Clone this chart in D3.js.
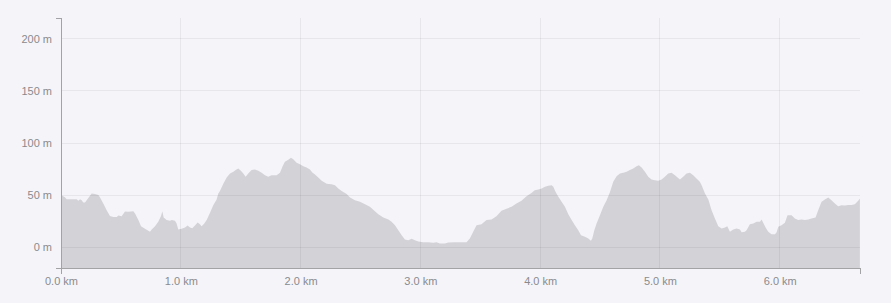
<!DOCTYPE html>
<html>
<head>
<meta charset="utf-8">
<title>Elevation profile</title>
<script src="https://cdn.jsdelivr.net/npm/d3@7"></script>
<style>
    html, body { margin: 0; padding: 0; background: #f5f5f9; }
    svg { display: block; }
    .axis text { font-family: "Liberation Sans", Arial, sans-serif; font-size: 11px; fill: #8a8a8e; }
    .axis path, .axis line { stroke: #a3a3a6; }
</style>
</head>
<body>
<script>
// distance along the route (km) and elevation (m)
var distanceKm = [
    0.000, 0.033, 0.047, 0.131, 0.145, 0.159, 0.173, 0.186, 0.200, 0.214,
    0.256, 0.284, 0.312, 0.326, 0.353, 0.381, 0.409, 0.437, 0.465, 0.479,
    0.506, 0.534, 0.562, 0.604, 0.618, 0.646, 0.668, 0.701, 0.743, 0.757,
    0.785, 0.812, 0.835, 0.846, 0.857, 0.882, 0.910, 0.924, 0.952, 0.965,
    0.979, 1.007, 1.035, 1.057, 1.077, 1.096, 1.118, 1.141, 1.160, 1.174,
    1.196, 1.216, 1.244, 1.271, 1.299, 1.313, 1.327, 1.355, 1.383, 1.411,
    1.439, 1.458, 1.480, 1.502, 1.522, 1.541, 1.563, 1.591, 1.619, 1.647,
    1.675, 1.703, 1.730, 1.758, 1.800, 1.828, 1.850, 1.869, 1.897, 1.920,
    1.939, 1.967, 1.995, 2.023, 2.050, 2.078, 2.098, 2.120, 2.148, 2.176,
    2.218, 2.259, 2.287, 2.315, 2.343, 2.385, 2.413, 2.454, 2.496, 2.538,
    2.579, 2.616, 2.649, 2.691, 2.733, 2.760, 2.788, 2.816, 2.844, 2.871,
    2.899, 2.927, 2.955, 2.983, 3.024, 3.066, 3.108, 3.135, 3.163, 3.205,
    3.232, 3.288, 3.344, 3.385, 3.413, 3.441, 3.469, 3.510, 3.552, 3.594,
    3.635, 3.677, 3.719, 3.761, 3.802, 3.844, 3.886, 3.927, 3.955, 3.985,
    4.013, 4.040, 4.068, 4.096, 4.110, 4.129, 4.152, 4.179, 4.207, 4.235,
    4.263, 4.290, 4.318, 4.341, 4.374, 4.402, 4.424, 4.435, 4.452, 4.471,
    4.499, 4.527, 4.555, 4.583, 4.610, 4.638, 4.666, 4.694, 4.722, 4.749,
    4.777, 4.805, 4.824, 4.847, 4.875, 4.902, 4.930, 4.958, 4.986, 5.014,
    5.041, 5.069, 5.097, 5.125, 5.167, 5.194, 5.222, 5.250, 5.278, 5.305,
    5.333, 5.348, 5.376, 5.404, 5.431, 5.459, 5.487, 5.515, 5.543, 5.562,
    5.584, 5.612, 5.640, 5.668, 5.682, 5.709, 5.723, 5.751, 5.779, 5.807,
    5.835, 5.849, 5.862, 5.882, 5.904, 5.932, 5.960, 5.974, 5.988, 6.015,
    6.043, 6.065, 6.099, 6.126, 6.154, 6.182, 6.210, 6.238, 6.265, 6.299,
    6.321, 6.349, 6.377, 6.405, 6.432, 6.460, 6.488, 6.516, 6.544, 6.571,
    6.599, 6.627, 6.655, 6.669
];

var elevationM = [
    50.0, 48.0, 46.0, 46.0, 44.5, 46.0, 45.0, 43.0, 43.0, 45.0,
    51.5, 51.0, 50.0, 47.7, 42.0, 35.5, 30.0, 29.0, 29.0, 30.4,
    29.8, 34.2, 33.9, 34.5, 32.3, 26.0, 20.0, 17.6, 14.7, 17.0,
    20.0, 24.3, 30.0, 34.5, 28.5, 26.0, 25.3, 26.0, 25.3, 22.7,
    17.0, 17.6, 19.0, 20.8, 19.0, 18.2, 20.8, 23.7, 22.0, 20.2,
    22.7, 26.0, 33.0, 40.3, 45.8, 51.5, 54.0, 61.0, 67.0, 70.7,
    72.3, 74.0, 75.5, 73.3, 70.7, 67.5, 70.7, 74.0, 74.6, 73.3,
    71.4, 69.0, 67.5, 69.0, 69.0, 71.4, 77.8, 82.0, 84.0, 85.8,
    84.4, 81.0, 79.7, 77.8, 76.5, 74.6, 71.7, 69.7, 67.0, 63.7,
    61.0, 60.5, 59.5, 56.3, 54.0, 51.0, 47.7, 45.0, 43.5, 41.3,
    38.7, 34.9, 31.7, 28.5, 26.6, 24.3, 21.0, 16.3, 11.5, 7.4,
    6.7, 8.0, 6.7, 5.4, 4.8, 4.8, 4.2, 4.8, 3.5, 3.5,
    4.5, 4.8, 4.8, 4.8, 8.3, 14.7, 21.0, 22.0, 26.0, 26.6,
    29.8, 35.0, 37.0, 38.7, 42.0, 44.5, 49.0, 52.0, 54.7, 55.3,
    56.3, 57.9, 58.9, 59.5, 57.9, 53.0, 48.3, 43.5, 38.7, 31.7,
    26.0, 21.0, 16.3, 11.5, 9.9, 8.3, 6.1, 8.3, 16.3, 22.7,
    30.7, 38.7, 45.0, 53.0, 62.7, 68.2, 70.7, 71.4, 72.3, 74.0,
    75.5, 77.8, 78.7, 76.5, 72.3, 67.5, 65.0, 64.3, 63.7, 65.0,
    67.5, 70.7, 71.4, 69.0, 65.0, 67.5, 70.7, 71.4, 69.0, 65.9,
    62.7, 59.5, 51.5, 45.8, 35.5, 27.5, 20.2, 17.9, 19.0, 20.2,
    14.7, 17.0, 17.9, 17.0, 14.4, 14.7, 16.3, 22.0, 22.7, 24.3,
    24.3, 26.6, 23.4, 19.0, 14.7, 12.5, 12.5, 14.4, 19.6, 21.0,
    23.4, 30.7, 30.7, 27.5, 26.0, 26.6, 26.0, 26.6, 27.5, 28.5,
    35.5, 43.5, 45.8, 47.7, 45.0, 42.0, 39.4, 40.3, 40.0, 40.6,
    40.6, 41.3, 44.5, 46.7
];

var xTicksKm = [0, 1, 2, 3, 4, 5, 6];
var yTicksM = [0, 50, 100, 150, 200];
var xDomainKm = [0, 6.67];
var yDomainM = [-20, 220];

(function () {
    "use strict";

    var plot = {};

    plot.outerWidth = 891;
    plot.outerHeight = 303;
    plot.margin = {top: 18, right: 31, bottom: 35, left: 61};
    plot.innerWidth = plot.outerWidth - plot.margin.left - plot.margin.right;
    plot.innerHeight = plot.outerHeight - plot.margin.top - plot.margin.bottom;

    var points = distanceKm.map(function (d, i) {
        return {km: d, m: elevationM[i]};
    });

    var x = d3.scaleLinear().domain(xDomainKm).range([0, plot.innerWidth]);
    var y = d3.scaleLinear().domain(yDomainM).range([plot.innerHeight, 0]);

    var svg = d3.select("body").append("svg")
        .attr("width", plot.outerWidth)
        .attr("height", plot.outerHeight);

    svg.append("rect")
        .attr("width", plot.outerWidth)
        .attr("height", plot.outerHeight)
        .attr("fill", "#f5f5f9");

    plot.area = svg.append("g")
        .attr("transform", "translate(" + plot.margin.left + "," + plot.margin.top + ")");

    // the profile itself, filled down to the bottom of the plot
    var area = d3.area()
        .x(function (d) { return x(d.km); })
        .y0(plot.innerHeight)
        .y1(function (d) { return y(d.m); });

    plot.area.append("path")
        .datum(points)
        .attr("d", area)
        .attr("fill", "#d3d3d7");

    // grid sits over the fill, so it darkens slightly inside the profile
    var grid = plot.area.append("g")
        .attr("stroke", "rgba(0,0,0,0.055)")
        .attr("shape-rendering", "crispEdges");

    grid.selectAll("line.h")
        .data(yTicksM)
        .enter().append("line")
        .attr("class", "h")
        .attr("x1", 0)
        .attr("x2", plot.innerWidth)
        .attr("y1", function (d) { return y(d); })
        .attr("y2", function (d) { return y(d); });

    grid.selectAll("line.v")
        .data(xTicksKm.filter(function (d) { return d > 0; }))
        .enter().append("line")
        .attr("class", "v")
        .attr("x1", function (d) { return x(d); })
        .attr("x2", function (d) { return x(d); })
        .attr("y1", 0)
        .attr("y2", plot.innerHeight);

    // AXES
    var yAxis = d3.axisLeft(y)
        .tickValues(yTicksM)
        .tickSizeInner(0)
        .tickSizeOuter(5)
        .tickPadding(9)
        .tickFormat(function (d) { return d + " m"; });

    var xAxis = d3.axisBottom(x)
        .tickValues(xTicksKm)
        .tickSizeInner(0)
        .tickSizeOuter(6)
        .tickPadding(9)
        .tickFormat(function (d) { return d3.format(".1f")(d) + " km"; });

    var gy = plot.area.append("g")
        .attr("class", "axis")
        .call(yAxis);

    var gx = plot.area.append("g")
        .attr("class", "axis")
        .attr("transform", "translate(0," + plot.innerHeight + ")")
        .call(xAxis);

    [gx, gy].forEach(function (g) {
        g.select(".domain").attr("stroke", "#a3a3a6").attr("shape-rendering", "crispEdges");
        g.selectAll("text").attr("fill", "#8a8a8e").attr("font-family", null).attr("font-size", null);
    });
})();
</script>
</body>
</html>
